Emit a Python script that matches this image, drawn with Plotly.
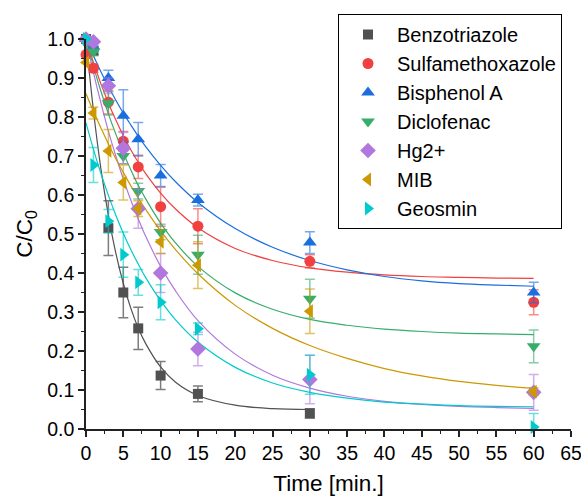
import plotly.graph_objects as go

# ---- data ----
t_pts = [0, 1, 3, 5, 7, 10, 15, 30, 60]
t_pts_btz = [0, 1, 3, 5, 7, 10, 15, 30]

names = ["Benzotriazole", "Sulfamethoxazole", "Bisphenol A", "Diclofenac", "Hg2+", "MIB", "Geosmin"]

btz_y = [1.0, 0.97, 0.515, 0.35, 0.258, 0.137, 0.09, 0.04]
btz_e = [0.0, 0.01, 0.07, 0.065, 0.054, 0.036, 0.02, 0.012]
smx_y = [0.96, 0.925, 0.838, 0.738, 0.672, 0.57, 0.52, 0.43, 0.325]
smx_e = [0.0, 0.01, 0.03, 0.025, 0.03, 0.05, 0.045, 0.017, 0.032]
bpa_y = [1.0, 0.98, 0.90, 0.803, 0.743, 0.65, 0.587, 0.478, 0.35]
bpa_e = [0.0, 0.01, 0.02, 0.067, 0.043, 0.028, 0.015, 0.028, 0.026]
dcf_y = [0.99, 0.967, 0.835, 0.70, 0.61, 0.505, 0.447, 0.334, 0.212]
dcf_e = [0.0, 0.01, 0.03, 0.02, 0.02, 0.02, 0.05, 0.05, 0.042]
hg_y = [1.0, 0.993, 0.88, 0.72, 0.565, 0.40, 0.205, 0.127, 0.094]
hg_e = [0.0, 0.01, 0.02, 0.04, 0.05, 0.05, 0.043, 0.062, 0.046]
mib_y = [0.94, 0.81, 0.713, 0.632, 0.565, 0.48, 0.42, 0.302, 0.096]
mib_e = [0.0, 0.015, 0.055, 0.045, 0.02, 0.03, 0.06, 0.057, 0.01]
geo_y = [1.0, 0.677, 0.533, 0.447, 0.376, 0.325, 0.257, 0.139, 0.005]
geo_e = [0.0, 0.045, 0.03, 0.058, 0.033, 0.045, 0.015, 0.05, 0.035]

# fitted curves
t_fit = [0, 1, 2, 3, 4, 5, 6, 7, 8, 10, 12, 15, 20, 25, 30, 35, 40, 45, 50, 55, 60]
t_fit_btz = [0, 1, 2, 3, 4, 5, 6, 7, 8, 10, 12, 15, 20, 25, 30]
btz_fit = [1.000, .816, .667, .548, .451, .373, .310, .259, .219, .159, .120, .086, .061, .052, .050]
smx_fit = [1.000, .940, .885, .836, .792, .752, .716, .684, .655, .605, .564, .516, .463, .432, .413, .402, .395, .391, .389, .387, .386]
bpa_fit = [1.000, .957, .916, .878, .843, .810, .780, .751, .724, .676, .634, .581, .514, .466, .432, .408, .391, .380, .373, .369, .366]
dcf_fit = [1.000, .930, .866, .808, .756, .708, .665, .625, .590, .528, .477, .417, .349, .307, .281, .266, .256, .250, .246, .244, .242]
hg_fit = [1.000, .914, .836, .764, .700, .641, .587, .539, .494, .417, .354, .278, .192, .138, .105, .084, .071, .063, .058, .055, .053]
mib_fit = [.860, .814, .772, .731, .693, .658, .624, .592, .563, .508, .460, .398, .317, .258, .214, .181, .155, .136, .122, .112, .104]
geo_fit = [.785, .717, .655, .599, .548, .502, .460, .423, .388, .329, .280, .223, .158, .118, .094, .079, .069, .064, .060, .058, .057]

x_ticks = [0, 5, 10, 15, 20, 25, 30, 35, 40, 45, 50, 55, 60, 65]
y_ticks = [0.0, 0.1, 0.2, 0.3, 0.4, 0.5, 0.6, 0.7, 0.8, 0.9, 1.0]

colors = ["#515151", "#F14040", "#1A6FDF", "#37AD6B", "#B177DE", "#CC9900", "#00CBCC"]
err_colors = ["rgba(81,81,81,0.75)", "rgba(241,64,64,0.6)", "rgba(26,111,223,0.6)",
              "rgba(55,173,107,0.6)", "rgba(177,119,222,0.6)", "rgba(204,153,0,0.6)",
              "rgba(0,203,204,0.6)"]
symbols = ["square", "circle", "triangle-up", "triangle-down", "diamond", "triangle-left", "triangle-right"]
sizes = [10, 11, 12, 12, 12, 12, 12]

pts = [(t_pts_btz, btz_y, btz_e), (t_pts, smx_y, smx_e), (t_pts, bpa_y, bpa_e), (t_pts, dcf_y, dcf_e),
       (t_pts, hg_y, hg_e), (t_pts, mib_y, mib_e), (t_pts, geo_y, geo_e)]
fits = [(t_fit_btz, btz_fit), (t_fit, smx_fit), (t_fit, bpa_fit), (t_fit, dcf_fit),
        (t_fit, hg_fit), (t_fit, mib_fit), (t_fit, geo_fit)]

fig = go.Figure()
for i in range(7):
    fx, fy = fits[i]
    fig.add_trace(go.Scatter(x=fx, y=fy, mode="lines", line=dict(color=colors[i], width=1.2, shape="spline"),
                             showlegend=False, hoverinfo="skip", cliponaxis=False))
for i in range(7):
    px, py, pe = pts[i]
    fig.add_trace(go.Scatter(
        x=px, y=py, mode="markers", name=names[i],
        marker=dict(symbol=symbols[i], color=colors[i], size=sizes[i], line=dict(width=0)),
        error_y=dict(type="data", array=pe, visible=True, color=err_colors[i], thickness=1.5, width=5),
        cliponaxis=False))

fig.update_layout(
    width=581, height=497,
    margin=dict(l=86, r=10, t=39, b=68, autoexpand=False),
    paper_bgcolor="white", plot_bgcolor="white",
    font=dict(family="Liberation Sans, Arial, sans-serif", size=19.5, color="black"),
    showlegend=True,
    legend=dict(x=338 / 581, y=1 - 14 / 497, xref="container", yref="container",
                xanchor="left", yanchor="top", bordercolor="black", borderwidth=1,
                bgcolor="white", font=dict(size=20), itemwidth=48, tracegroupgap=0),
    xaxis=dict(range=[0, 65], tickvals=x_ticks, ticks="outside", ticklen=6, tickwidth=1.5,
               showline=True, linecolor="#222", linewidth=1.5, showgrid=False, zeroline=False,
               automargin=False, ticklabeloverflow="allow",
               minor=dict(ticks="outside", ticklen=3, tickwidth=1.2, dtick=2.5, tick0=0, tickcolor="#222"),
               title=dict(text="Time [min.]", font=dict(size=22.5), standoff=12), tickcolor="#222"),
    yaxis=dict(range=[0, 1.0], tickvals=y_ticks, tickformat=".1f", ticks="outside", ticklen=6, tickwidth=1.5,
               showline=True, linecolor="#222", linewidth=1.5, showgrid=False, zeroline=False,
               automargin=False, ticklabeloverflow="allow",
               minor=dict(ticks="outside", ticklen=3, tickwidth=1.2, dtick=0.05, tick0=0, tickcolor="#222"),
               title=dict(text="C/C<sub>0</sub>", font=dict(size=22.5), standoff=8), tickcolor="#222"),
)

# remove the default page margin so the 581x497 figure fills the window exactly
fig.write_html("out.html",
               config={"displayModeBar": False},
               post_script="document.body.style.margin='0px';document.body.style.overflow='hidden';")
